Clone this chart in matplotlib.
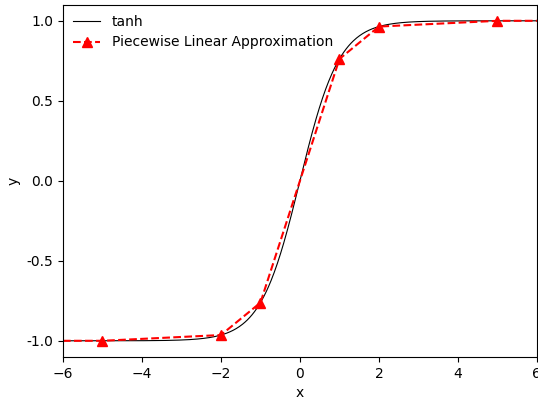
import numpy as np
import matplotlib
matplotlib.use("Agg")
from matplotlib import pyplot as plt
from matplotlib.ticker import FormatStrFormatter, MultipleLocator

# breakpoints of the piecewise approximation (ends clamped to +/-1)
x_pts = [-6, -5, -2, -1, 1, 2, 5, 6]
y_pts = [-1.0, -0.9999, -0.9640, -0.7616, 0.7616, 0.9640, 0.9999, 1.0]
marked = [1, 2, 3, 4, 5, 6]

x = np.linspace(-6, 6, 600)

fig, ax = plt.subplots(figsize=(5.38, 4.0), dpi=100)
ax.plot(x, np.tanh(x), '-', color='black', lw=0.8, label='tanh')
ax.plot(x_pts, y_pts, '--', color='red', marker='^', markersize=6.5,
        markevery=marked, label='Piecewise Linear Approximation')

ax.set_xlim(-6, 6)
ax.set_xlabel("x")
ax.set_ylabel("y")
ax.yaxis.set_major_locator(MultipleLocator(0.5))
ax.yaxis.set_major_formatter(FormatStrFormatter('%.1f'))
ax.legend(loc='upper left', frameon=False, borderaxespad=0.3)

plt.subplots_adjust(left=0.117, right=0.998, top=0.988, bottom=0.108)
plt.savefig("out.png")
